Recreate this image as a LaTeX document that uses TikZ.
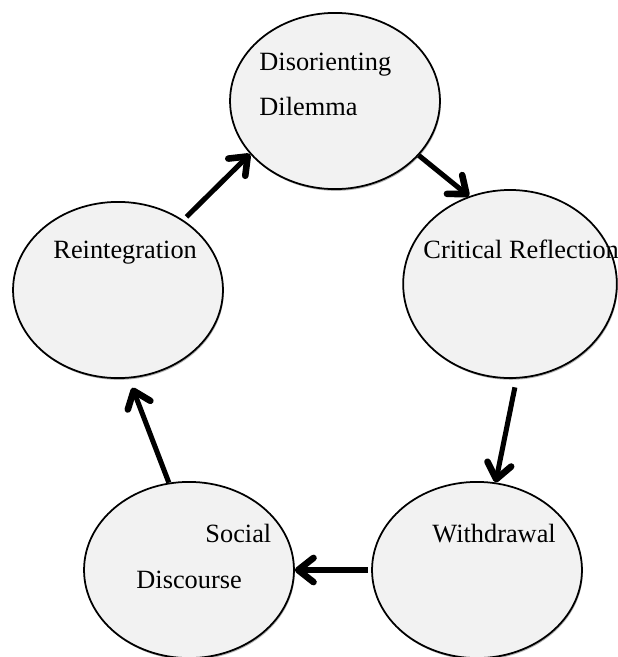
\documentclass[tikz,border=0pt]{standalone}
\usepackage{fontspec}
\setmainfont{Liberation Serif}
\usetikzlibrary{arrows.meta, shapes.geometric, shadows}
\definecolor{stagefill}{RGB}{242,242,242}

\begin{document}
\begin{tikzpicture}[
    x=0.016cm, y=-0.016cm,
    every node/.style={font=\fontsize{12}{14}\selectfont},
    stage/.style={ellipse, draw=black, line width=0.8pt, fill=stagefill, inner sep=0pt,
        minimum width=3.36cm, minimum height=2.82cm,
        drop shadow={shadow xshift=0.4pt, shadow yshift=-0.8pt, opacity=0.3, fill=black}},
    lbl/.style={anchor=base west, inner sep=0pt},
    flow/.style={line width=2.3pt, -{Straight Barb[length=7pt, width=11pt, line width=3pt, round]}},
]
\useasboundingbox (0,0) rectangle (618,657);

% ============================================================
% Stages of the cycle
% ============================================================
\node[stage] (dis) at (335, 101) {};
\node[stage, minimum width=3.42cm, minimum height=3.01cm] (crit) at (510, 284) {};
\node[stage] (withd) at (477, 570) {};
\node[stage] (soc) at (189, 570) {};
\node[stage] (reint) at (118, 290) {};

% Labels (upper part of each ellipse)
\node[lbl] (disA) at (259, 70) {Disorienting};
\node[lbl] (disB) at (259, 115) {Dilemma};
\node[lbl] (critA) at (423, 258) {Critical Reflection};
\node[lbl] (withdA) at (432, 542) {Withdrawal};
\node[lbl] (socA) at (205, 542) {Social};
\node[lbl] (socB) at (136, 588) {Discourse};
\node[lbl] (reintA) at (53, 258) {Reintegration};

% ============================================================
% Arrows around the cycle
% ============================================================
\draw[flow] (dis.-33) -- (crit.115);
\draw[flow, shorten <=4pt] (crit.-86) -- (withd.78);
\draw[flow, shorten <=1.5pt] (withd.west) -- (soc.east);
\draw[flow, shorten >=4.5pt] (soc.103) -- (reint.-83);
\draw[flow, shorten <=2pt] (reint.47) -- (dis.212);

\end{tikzpicture}
\end{document}
